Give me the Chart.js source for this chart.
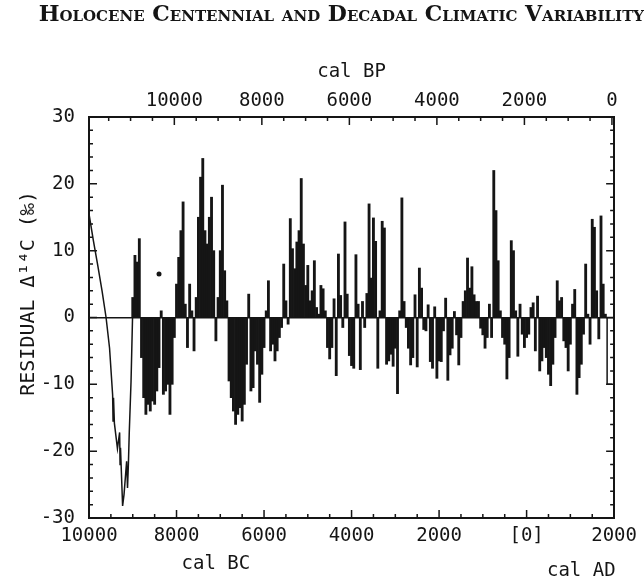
<!DOCTYPE html>
<html>
<head>
<meta charset="utf-8">
<script src="https://cdn.jsdelivr.net/npm/chart.js@4"></script>
<style>
  html, body { margin: 0; padding: 0; background: #fff; }
</style>
</head>
<body>
<canvas id="c14Chart" width="644" height="584"></canvas>
<script>
// Residual delta 14C (per mil), values every 50 years
var barYears = [
  -9000, -8950, -8900, -8850, -8800, -8750, -8700, -8650, -8600, -8550,
  -8500, -8450, -8400, -8350, -8300, -8250, -8200, -8150, -8100, -8050,
  -8000, -7950, -7900, -7850, -7800, -7750, -7700, -7650, -7600, -7550,
  -7500, -7450, -7400, -7350, -7300, -7250, -7200, -7150, -7100, -7050,
  -7000, -6950, -6900, -6850, -6800, -6750, -6700, -6650, -6600, -6550,
  -6500, -6450, -6400, -6350, -6300, -6250, -6200, -6150, -6100, -6050,
  -6000, -5950, -5900, -5850, -5800, -5750, -5700, -5650, -5600, -5550,
  -5500, -5450, -5400, -5350, -5300, -5250, -5200, -5150, -5100, -5050,
  -5000, -4950, -4900, -4850, -4800, -4750, -4700, -4650, -4600, -4550,
  -4500, -4450, -4400, -4350, -4300, -4250, -4200, -4150, -4100, -4050,
  -4000, -3950, -3900, -3850, -3800, -3750, -3700, -3650, -3600, -3550,
  -3500, -3450, -3400, -3350, -3300, -3250, -3200, -3150, -3100, -3050,
  -3000, -2950, -2900, -2850, -2800, -2750, -2700, -2650, -2600, -2550,
  -2500, -2450, -2400, -2350, -2300, -2250, -2200, -2150, -2100, -2050,
  -2000, -1950, -1900, -1850, -1800, -1750, -1700, -1650, -1600, -1550,
  -1500, -1450, -1400, -1350, -1300, -1250, -1200, -1150, -1100, -1050,
  -1000, -950, -900, -850, -800, -750, -700, -650, -600, -550,
  -500, -450, -400, -350, -300, -250, -200, -150, -100, -50,
  0, 50, 100, 150, 200, 250, 300, 350, 400, 450,
  500, 550, 600, 650, 700, 750, 800, 850, 900, 950,
  1000, 1050, 1100, 1150, 1200, 1250, 1300, 1350, 1400, 1450,
  1500, 1550, 1600, 1650, 1700, 1750, 1800
];
var barValues = [
  3, 9.3, 8.3, 11.8, -6, -12, -14.5, -13, -14, -12.5,
  -13, -11, -7.5, 1, -11.5, -11, -10, -14.5, -10, -3,
  5, 9, 13, 17.3, 2, -4.5, 5, 1, -5, 3,
  15, 21, 23.8, 13, 11, 15, 18, 10, -3.5, 3,
  10, 19.8, 7, 2.5, -9.5, -12, -14, -16, -14.5, -13.5,
  -15.5, -13, -7, 3.5, -11, -10.5, -5, -7, -12.7, -8.5,
  -4.5, 1, 5.5, -5, -4, -6.5, -5, -3, -1.5, 8,
  2.5, -1, 14.8, 10.3, 7.3, 11.3, 13, 20.8, 11, 4.8,
  7.8, 2.5, 4, 8.5, 1.5, 0.5, 4.8, 4.3, 1, -4.5,
  -6.2, -4.5, 2.8, -8.7, 9.5, 3.3, -1.5, 14.3, 3.5, -5.7,
  -7.2, -7.6, 9.4, 2, -7.8, 2.4, -1.5, 3.6, 17, 5.9,
  14.9, 11.4, -7.6, 1, 14.4, 13.4, -7, -6.5, -5.5, -7.3,
  -4.6, -11.4, 1, 17.9, 2.4, -1.5, -4.6, -7.1, -6, 3.4,
  -7.4, 7.4, 4.4, -1.8, -2, 1.9, -6.6, -7.6, 1.6, -9.1,
  -6.5, -6.6, -2, 2.9, -9.4, -5.6, -4.6, 0.9, -2.6, -7.1,
  -3, 2.4, 4, 8.9, 4.4, 7.6, 3.4, 2.4, 2.4, -1.6,
  -2.6, -4.6, -3, 2, -3, 22, 16, 8.5, 1, -3,
  -4, -9.2, -6, 11.5, 10, 1, -5.8, 2, -2.5, -4.5,
  -3, -2.5, 1.5, 2.2, -5, 3.2, -8, -6.5, -4.5, -6,
  -8.5, -10.2, -7, -3, 5.5, 2.5, 3, -3.5, -4.5, -8,
  -4, 2, 4.2, -11.5, -9, -7, -2.5, 8, 0.5, -4,
  14.7, 13.5, 4, -3.2, 15.2, 5, 0.5
];

// early part drawn as a thin line
var curveYears = [-10000, -9900, -9800, -9700, -9610, -9530, -9460, -9450, -9440, -9420,
  -9350, -9300, -9290, -9280, -9232, -9200, -9140, -9120, -9100, -9080, -9040, -9005];
var curveValues = [15.5, 11.5, 7.8, 3.9, 0, -4.6, -11.6, -15.5, -12, -15.8,
  -19.6, -17.2, -22, -19.5, -28.2, -26.5, -21.5, -25.5, -22, -17.2, -9.7, 0];

// last step at the right edge
var endYears = [1840, 1840, 1950];
var endValues = [0, -10, -10];

// stray point
var dotYears = [-8400];
var dotValues = [6.5];

var bottomTicks = [-10000, -8000, -6000, -4000, -2000, 0, 2000];
var bottomLabels = ["10000", "8000", "6000", "4000", "2000", "[0]", "2000"];
var topTicks = [10000, 8000, 6000, 4000, 2000, 0];
var yTicks = [-30, -20, -10, 0, 10, 20, 30];

var ink = "#151515";
var mono = "'DejaVu Sans Mono', monospace";

function toPoints(xs, ys) {
  return xs.map(function (x, i) { return { x: x, y: ys[i] }; });
}

// tick marks pointing into the plot, plus the cal BC / cal AD captions
var innerTicks = {
  id: "innerTicks",
  afterDraw: function (chart) {
    var ctx = chart.ctx;
    var a = chart.chartArea;
    var xs = chart.scales.x, xt = chart.scales.xTop, ys = chart.scales.y;
    ctx.save();
    ctx.strokeStyle = ink;
    ctx.lineWidth = 1.5;
    ctx.beginPath();
    for (var v = -10000; v <= 2000; v += 500) {
      var px = xs.getPixelForValue(v);
      var len = v % 2000 === 0 ? 8 : 4;
      ctx.moveTo(px, a.bottom);
      ctx.lineTo(px, a.bottom - len);
    }
    for (var bp = 0; bp <= 11500; bp += 500) {
      var tx = xt.getPixelForValue(bp);
      var tlen = bp % 2000 === 0 ? 8 : 4;
      ctx.moveTo(tx, a.top);
      ctx.lineTo(tx, a.top + tlen);
    }
    for (var t = -30; t <= 30; t += 2) {
      var py = ys.getPixelForValue(t);
      var ylen = t % 10 === 0 ? 8 : 4;
      ctx.moveTo(a.left, py);
      ctx.lineTo(a.left + ylen, py);
      ctx.moveTo(a.right, py);
      ctx.lineTo(a.right - ylen, py);
    }
    ctx.stroke();

    ctx.fillStyle = ink;
    ctx.font = "19px " + mono;
    ctx.textAlign = "center";
    ctx.textBaseline = "middle";
    ctx.fillText("cal BC", xs.getPixelForValue(-7100), 564);
    ctx.fillText("cal AD", xs.getPixelForValue(1250), 571);
    ctx.restore();
  }
};

var ctx = document.getElementById("c14Chart").getContext("2d");
var chart = new Chart(ctx, {
  type: "bar",
  data: {
    datasets: [
      {
        type: "line",
        data: toPoints(curveYears, curveValues),
        borderColor: ink,
        borderWidth: 1.5,
        pointRadius: 0,
        fill: false,
        tension: 0
      },
      {
        type: "line",
        data: toPoints(endYears, endValues),
        borderColor: ink,
        borderWidth: 1.5,
        pointRadius: 0,
        fill: false,
        tension: 0
      },
      {
        type: "line",
        data: toPoints(dotYears, dotValues),
        showLine: false,
        pointRadius: 2.5,
        pointBackgroundColor: ink,
        pointBorderWidth: 0
      },
      {
        type: "bar",
        data: toPoints(barYears, barValues),
        backgroundColor: ink,
        borderWidth: 0,
        barPercentage: 1,
        categoryPercentage: 1
      }
    ]
  },
  options: {
    responsive: false,
    animation: false,
    events: [],
    layout: { padding: 0 },
    plugins: {
      legend: { display: false },
      tooltip: { enabled: false },
      title: {
        display: true,
        text: "Holocene Centennial and Decadal Climatic Variability",
        align: "end",
        color: ink,
        font: { family: "'DejaVu Serif', serif", size: 22, weight: "small-caps bold", lineHeight: 1.2 },
        padding: { top: 2.5, bottom: 3.5 }
      }
    },
    scales: {
      x: {
        type: "linear",
        position: "bottom",
        min: -10000,
        max: 2000,
        offset: false,
        afterBuildTicks: function (s) {
          s.ticks = bottomTicks.map(function (v) { return { value: v }; });
        },
        afterFit: function (s) { s.height = 66; },
        grid: { display: false, drawTicks: false, offset: false },
        border: { display: true, color: ink, width: 2 },
        ticks: {
          autoSkip: false,
          maxRotation: 0,
          padding: 7,
          color: ink,
          font: { family: mono, size: 19 },
          callback: function (value) { return bottomLabels[bottomTicks.indexOf(value)]; }
        }
      },
      xTop: {
        type: "linear",
        position: "top",
        reverse: true,
        min: -50,
        max: 11950,
        offset: false,
        afterBuildTicks: function (s) {
          s.ticks = topTicks.map(function (v) { return { value: v }; });
        },
        afterFit: function (s) { s.height = 117 - 32.4; },
        grid: { display: false, drawTicks: false, offset: false },
        border: { display: true, color: ink, width: 2 },
        title: {
          display: true,
          text: "cal BP",
          color: ink,
          font: { family: mono, size: 19 },
          padding: { top: 28, bottom: 0 }
        },
        ticks: {
          autoSkip: false,
          maxRotation: 0,
          padding: 5,
          color: ink,
          font: { family: mono, size: 19 },
          callback: function (value) { return String(value); }
        }
      },
      y: {
        type: "linear",
        position: "left",
        min: -30,
        max: 30,
        afterBuildTicks: function (s) {
          s.ticks = yTicks.map(function (v) { return { value: v }; });
        },
        afterFit: function (s) { s.width = 89; },
        grid: {
          drawTicks: false,
          lineWidth: 1.5,
          color: function (c) { return c.tick && c.tick.value === 0 ? ink : "rgba(0,0,0,0)"; }
        },
        border: { display: true, color: ink, width: 2 },
        title: {
          display: true,
          text: "    RESIDUAL Δ¹⁴C (‰)",
          color: ink,
          font: { family: mono, size: 20 },
          padding: { top: 17, bottom: 0 }
        },
        ticks: {
          padding: 14,
          color: ink,
          font: { family: mono, size: 19 }
        }
      },
      yRight: {
        type: "linear",
        position: "right",
        min: -30,
        max: 30,
        afterFit: function (s) { s.width = 24; },
        grid: { display: false, drawTicks: false },
        border: { display: true, color: ink, width: 2 },
        ticks: { display: false }
      }
    }
  },
  plugins: [innerTicks]
});
</script>
</body>
</html>
